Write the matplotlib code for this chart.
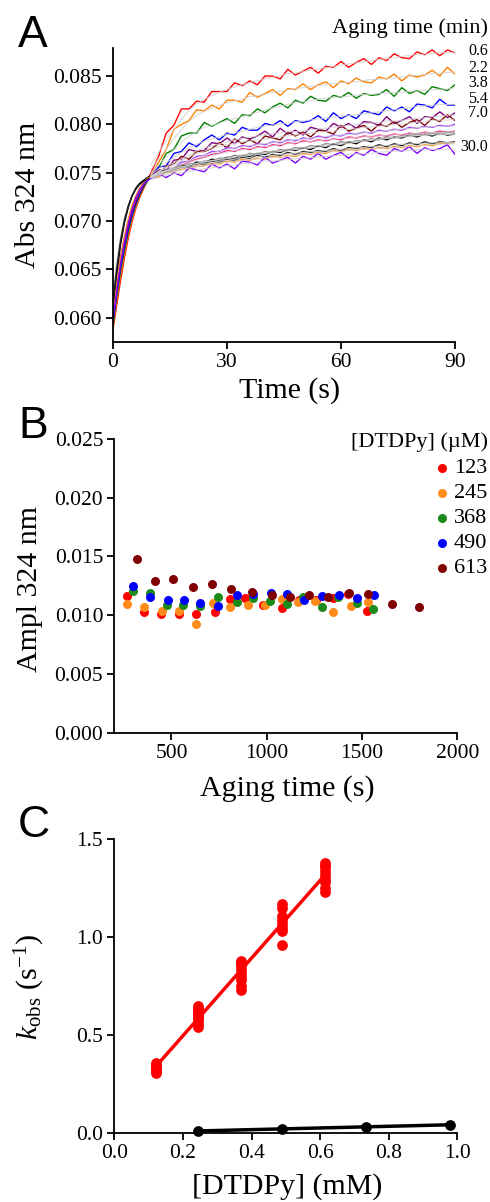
import numpy as np
import pandas as pd
import matplotlib
matplotlib.use('Agg')
import matplotlib.pyplot as plt
from matplotlib.lines import Line2D
from matplotlib.ticker import FormatStrFormatter

plt.rcParams['font.family'] = ['Liberation Serif', 'DejaVu Serif']
plt.rcParams['mathtext.fontset'] = 'custom'
plt.rcParams['mathtext.rm'] = 'Liberation Serif'
plt.rcParams['mathtext.it'] = 'Liberation Serif:italic'

# ---------------- Panel A data (Abs in mAbs) ----------------
time_s = list(range(0, 11)) + list(range(12, 91, 2))

trace_red = [58.8, 61.4, 63.9, 66.2, 68.2, 69.9, 71.3, 72.4, 73.3, 74.2, 75.0,
             76.7, 79.1, 79.9, 81.6, 81.6, 82.4, 82.3, 83.4, 83.4, 83.4,
             84.3, 84.0, 84.5, 84.1, 85.0, 85.0, 84.7, 85.7, 85.1, 85.5,
             85.9, 85.3, 86.0, 85.9, 86.5, 85.9, 86.4, 86.8, 86.2, 86.9,
             86.6, 87.3, 86.9, 86.8, 87.5, 87.2, 87.7, 87.1, 87.7, 87.4]
trace_orange = [59.0, 61.9, 64.4, 66.6, 68.5, 70.1, 71.4, 72.5, 73.4, 74.1, 74.6,
                76.1, 77.4, 79.5, 80.0, 80.4, 81.5, 81.4, 82.0, 81.6, 82.5,
                82.5, 82.3, 83.3, 82.8, 83.2, 83.6, 83.0, 83.7, 83.6, 84.2,
                83.6, 84.1, 84.4, 83.8, 84.5, 84.2, 84.8, 84.4, 84.3, 84.9,
                84.7, 85.2, 84.5, 85.1, 84.9, 85.1, 85.6, 85.0, 85.9, 85.2]
trace_green = [59.3, 62.3, 64.9, 67.0, 68.9, 70.5, 71.7, 72.7, 73.5, 74.1, 74.6,
               75.5, 77.0, 77.4, 78.8, 79.1, 79.1, 80.2, 79.8, 80.2, 80.6,
               80.1, 81.0, 80.9, 81.6, 81.2, 81.8, 82.2, 81.7, 82.5, 82.2,
               82.9, 82.5, 82.4, 83.0, 82.8, 83.3, 82.7, 83.2, 83.0, 83.1,
               83.6, 82.9, 83.8, 83.2, 83.5, 83.1, 83.9, 83.7, 83.5, 84.1]
trace_blue = [59.6, 62.6, 65.2, 67.3, 69.1, 70.6, 71.8, 72.8, 73.6, 74.2, 74.6,
              75.6, 75.7, 77.0, 77.2, 78.1, 77.7, 78.4, 78.9, 78.4, 79.1,
              78.9, 79.7, 79.4, 79.4, 80.1, 79.9, 80.4, 79.8, 80.4, 80.2,
              80.4, 80.9, 80.3, 81.2, 80.6, 81.0, 80.6, 81.4, 81.2, 81.0,
              81.8, 81.4, 81.8, 81.3, 82.1, 82.0, 81.7, 82.6, 82.0, 82.0]
trace_purple = [60.0, 63.0, 65.6, 67.6, 69.4, 70.9, 72.0, 73.0, 73.7, 74.3, 74.6,
                75.3, 75.2, 76.3, 76.4, 77.4, 77.2, 77.3, 78.1, 78.0, 78.6,
                78.0, 78.7, 78.5, 78.8, 79.3, 78.7, 79.6, 79.0, 79.4, 78.9,
                79.7, 79.5, 79.3, 80.1, 79.7, 80.1, 79.6, 80.3, 80.2, 79.9,
                80.8, 80.1, 80.4, 80.8, 80.1, 80.8, 80.7, 81.3, 80.7, 81.2]
trace_maroon = [60.2, 63.2, 65.8, 67.8, 69.6, 71.0, 72.1, 73.0, 73.7, 74.3, 74.6,
                74.6, 75.7, 75.9, 76.7, 76.4, 77.2, 77.2, 77.5, 78.1, 77.6,
                78.5, 78.0, 78.4, 78.0, 78.8, 78.6, 78.4, 79.2, 78.8, 79.2,
                78.7, 79.4, 79.3, 79.0, 79.9, 79.3, 79.6, 79.9, 79.3, 80.0,
                79.8, 80.3, 79.7, 80.2, 80.5, 79.9, 80.6, 80.3, 81.0, 80.4]
trace_violet = [60.5, 63.5, 66.0, 68.0, 69.8, 71.2, 72.3, 73.1, 73.8, 74.3, 74.6,
                74.8, 75.3, 75.5, 76.1, 76.2, 76.7, 76.8, 77.2, 77.2, 77.6,
                77.5, 77.8, 77.7, 78.0, 77.9, 78.2, 78.1, 78.4, 78.3, 78.6,
                78.5, 78.8, 78.6, 78.9, 78.8, 79.1, 79.0, 79.2, 79.1, 79.4,
                79.3, 79.5, 79.4, 79.7, 79.6, 79.8, 79.7, 79.9, 79.8, 80.0]
trace_pink = [60.8, 63.8, 66.3, 68.3, 70.0, 71.4, 72.5, 73.3, 73.9, 74.4, 74.6,
              74.9, 75.2, 75.5, 75.8, 76.1, 76.4, 76.6, 76.9, 77.0, 77.3,
              77.2, 77.5, 77.4, 77.7, 77.6, 77.9, 77.8, 78.1, 78.0, 78.3,
              78.2, 78.4, 78.3, 78.5, 78.4, 78.7, 78.6, 78.8, 78.7, 78.9,
              78.8, 79.0, 78.9, 79.1, 79.0, 79.2, 79.1, 79.3, 79.2, 79.3]
trace_gray = [62.0, 65.5, 68.2, 70.2, 71.6, 72.6, 73.3, 73.8, 74.1, 74.4, 74.6,
              74.9, 75.2, 75.5, 75.6, 75.9, 75.9, 76.2, 76.2, 76.5, 76.5,
              76.8, 76.7, 77.0, 76.9, 77.2, 77.1, 77.4, 77.3, 77.6, 77.5,
              77.8, 77.7, 78.0, 77.9, 78.2, 78.1, 78.3, 78.3, 78.5, 78.4,
              78.7, 78.6, 78.8, 78.8, 79.0, 78.9, 79.1, 79.0, 79.2, 79.1]
trace_black = [61.0, 64.6, 67.6, 69.8, 71.4, 72.6, 73.4, 73.9, 74.2, 74.5, 74.7,
               75.0, 75.3, 75.4, 75.8, 75.7, 76.1, 76.0, 76.4, 76.3, 76.6,
               76.5, 76.8, 76.7, 77.0, 76.9, 77.2, 77.1, 77.4, 77.3, 77.6,
               77.4, 77.8, 77.6, 78.0, 77.8, 78.2, 78.0, 78.4, 78.2, 78.6,
               78.4, 78.7, 78.6, 78.9, 78.7, 79.0, 78.8, 79.1, 78.9, 79.0]
trace_orange2 = [60.3, 63.5, 66.2, 68.4, 70.2, 71.6, 72.6, 73.4, 74.0, 74.4, 74.6,
                 74.6, 75.0, 75.1, 75.4, 75.4, 75.7, 75.7, 76.0, 75.9, 76.2,
                 76.1, 76.4, 76.3, 76.5, 76.4, 76.7, 76.6, 76.8, 76.7, 77.0,
                 76.9, 77.1, 77.0, 77.3, 77.2, 77.4, 77.3, 77.5, 77.4, 77.6,
                 77.5, 77.7, 77.6, 77.8, 77.7, 77.9, 77.8, 78.0, 78.1, 78.1]
trace_black2 = [61.5, 65.0, 67.9, 70.0, 71.5, 72.6, 73.3, 73.8, 74.1, 74.3, 74.5,
                74.8, 75.1, 75.3, 75.6, 75.6, 75.9, 75.9, 76.2, 76.1, 76.4,
                76.3, 76.6, 76.5, 76.8, 76.6, 76.9, 76.8, 77.1, 76.9, 77.2,
                77.1, 77.3, 77.2, 77.5, 77.3, 77.6, 77.5, 77.7, 77.6, 77.9,
                77.7, 78.0, 77.8, 78.1, 77.9, 78.2, 78.0, 78.2, 78.1, 78.2]
trace_violet2 = [59.8, 62.9, 65.6, 67.8, 69.7, 71.2, 72.4, 73.2, 73.8, 74.2, 74.4,
                 74.9, 74.5, 75.0, 74.7, 75.5, 75.3, 75.1, 75.9, 75.5, 75.9,
                 75.4, 76.2, 76.1, 75.8, 76.6, 76.0, 76.3, 76.6, 76.0, 76.7,
                 76.4, 77.0, 76.4, 76.8, 77.1, 76.5, 77.1, 76.8, 77.4, 77.0,
                 76.8, 77.5, 77.2, 77.7, 77.0, 77.6, 77.3, 77.5, 77.9, 76.9]

traces_A = [trace_red, trace_orange, trace_green, trace_blue, trace_purple,
            trace_maroon, trace_violet, trace_pink, trace_gray, trace_black,
            trace_orange2, trace_black2, trace_violet2]
colors_A = ['#ff0000', '#ff8000', '#008000', '#0000ff', '#800080',
            '#800000', '#a040ff', '#ff2080', '#808080', '#000000',
            '#ff9020', '#202020', '#8000ff']
aging_labels = ['0.6', '2.2', '3.8', '5.4', '7.0', '30.0']

# ---------------- Panel B data ----------------
b_conc_labels = ['123', '245', '368', '490', '613']
b_colors = ['#ff0000', '#ff8c1a', '#1a8a1a', '#0000ff', '#800000']
b_x_123 = [268, 357, 445, 540, 627, 729, 807, 888, 978, 1078, 1170, 1260, 1349, 1428, 1525]
b_y_123 = [0.01164, 0.01030, 0.01010, 0.01010, 0.01010, 0.01025, 0.01138, 0.01149,
           0.01090, 0.01059, 0.01130, 0.01130, 0.01149, 0.01180, 0.01039]
b_x_245 = [265, 357, 450, 539, 629, 720, 807, 903, 990, 1078, 1165, 1253, 1349, 1442, 1530]
b_y_245 = [0.01093, 0.01073, 0.01039, 0.01039, 0.00922, 0.01107, 0.01070, 0.01084,
           0.01084, 0.01135, 0.01110, 0.01124, 0.01024, 0.01078, 0.01110]
b_x_368 = [300, 387, 475, 562, 650, 746, 842, 929, 1017, 1104, 1192, 1288, 1375, 1472, 1559]
b_y_368 = [0.01206, 0.01186, 0.01084, 0.01084, 0.01078, 0.01155, 0.01110, 0.01144,
           0.01124, 0.01093, 0.01155, 0.01070, 0.01155, 0.01101, 0.01050]
b_x_490 = [300, 387, 480, 567, 650, 746, 842, 929, 1020, 1108, 1195, 1288, 1379, 1472, 1563]
b_y_490 = [0.01249, 0.01155, 0.01127, 0.01127, 0.01107, 0.01078, 0.01169, 0.01178,
           0.01186, 0.01181, 0.01127, 0.01164, 0.01169, 0.01149, 0.01172]
b_x_613 = [317, 413, 510, 611, 712, 812, 920, 1026, 1122, 1223, 1323, 1433, 1533, 1655, 1800]
b_y_613 = [0.01476, 0.01291, 0.01305, 0.01243, 0.01266, 0.01223, 0.01200, 0.01169,
           0.01158, 0.01169, 0.01155, 0.01186, 0.01178, 0.01098, 0.01073]
b_xs = [b_x_123, b_x_245, b_x_368, b_x_490, b_x_613]
b_ys = [b_y_123, b_y_245, b_y_368, b_y_490, b_y_613]

# ---------------- Panel C data ----------------
c_conc_mM = [0.123, 0.245, 0.368, 0.490, 0.613]
c_kobs = [
    [0.31, 0.32, 0.33, 0.34, 0.35, 0.36],
    [0.54, 0.56, 0.58, 0.59, 0.60, 0.61, 0.62, 0.63, 0.64, 0.65],
    [0.73, 0.75, 0.78, 0.80, 0.82, 0.84, 0.86, 0.87, 0.88],
    [0.96, 1.03, 1.05, 1.07, 1.09, 1.11, 1.15, 1.17],
    [1.23, 1.25, 1.28, 1.30, 1.32, 1.34, 1.36, 1.37, 1.38],
]
c_black_conc = [0.245, 0.490, 0.735, 0.980]
c_black_k = [0.012, 0.022, 0.034, 0.043]

# ---------------- Figure ----------------
W, H = 490, 1202
fig = plt.figure(figsize=(W / 100, H / 100), dpi=100)


def fx(px):
    return px / W


def fy(py):
    return 1 - py / H


def add_axes(left, top, right, bottom):
    return fig.add_axes([fx(left), fy(bottom), (right - left) / W, (bottom - top) / H])


TICK_FS = 15.5
LAB_FS = 21.5


def style(ax):
    for s in ['top', 'right']:
        ax.spines[s].set_visible(False)
    for s in ['left', 'bottom']:
        ax.spines[s].set_linewidth(1.3)
    ax.tick_params(direction='out', length=5, width=1.3, labelsize=TICK_FS, pad=3)


# Panel A
axA = add_axes(113, 48, 455, 342)
t = np.array(time_s)
for tr, c in zip(traces_A, colors_A):
    y = np.array(tr) / 1000.0
    axA.plot(t, y, color=c, lw=1.0, zorder=2)
for tr in traces_A:
    y = pd.Series(np.array(tr) / 1000.0).rolling(7, center=True, min_periods=1).mean().values
    m = t >= 10
    axA.plot(t[m], y[m], color='#d0d0d0', lw=0.8, alpha=0.8, zorder=3)
axA.set_xlim(0, 90)
axA.set_ylim(0.0575, 0.0879)
axA.set_xticks([0, 30, 60, 90])
axA.set_yticks([0.060, 0.065, 0.070, 0.075, 0.080, 0.085])
axA.yaxis.set_major_formatter(FormatStrFormatter('%.3f'))
style(axA)

fig.text(fx(18), fy(47), 'A', family='Liberation Sans', fontsize=32, va='baseline', ha='left')
fig.text(fx(488), fy(33), 'Aging time (min)', fontsize=16, ha='right', va='baseline')
for lab, py in zip(aging_labels, [50.7, 68.3, 82.7, 99.3, 113.3, 146.7]):
    fig.text(fx(488), fy(py), lab, fontsize=11.5, ha='right', va='center')
fig.text(fx(28), fy(195), 'Abs 324 nm', fontsize=LAB_FS, rotation=90, ha='center', va='center')
fig.text(fx(290), fy(391), 'Time (s)', fontsize=LAB_FS, ha='center', va='center')

# Panel B
axB = add_axes(114.3, 439, 457.3, 732.7)
for xs, ys, c in zip(b_xs, b_ys, b_colors):
    axB.scatter(xs, ys, s=42, color=c, linewidths=0, zorder=3)
axB.set_xlim(200, 2000)
axB.set_ylim(0, 0.025)
axB.set_xticks([500, 1000, 1500, 2000])
axB.set_yticks([0, 0.005, 0.010, 0.015, 0.020, 0.025])
axB.yaxis.set_major_formatter(FormatStrFormatter('%.3f'))
style(axB)

fig.text(fx(18), fy(438), 'B', family='Liberation Sans', fontsize=32, va='baseline', ha='left')
fig.text(fx(488), fy(441.7), '[DTDPy] (\u00b5M)', fontsize=16, ha='right', va='center')
for lab, c, py in zip(b_conc_labels, b_colors, [468.3, 493.3, 518.3, 543.3, 568.3]):
    fig.add_artist(Line2D([fx(441.7)], [fy(py)], marker='o', markersize=6.5, color=c,
                          markeredgewidth=0, linestyle='none', transform=fig.transFigure))
    fig.text(fx(454), fy(py), lab, fontsize=16, ha='left', va='center')
fig.text(fx(30), fy(589), 'Ampl 324 nm', fontsize=LAB_FS, rotation=90, ha='center', va='center')
fig.text(fx(287), fy(789), 'Aging time (s)', fontsize=LAB_FS, ha='center', va='center')

# Panel C
axC = add_axes(114.3, 839.3, 457.3, 1133.3)
all_x, all_y = [], []
for cx, ks in zip(c_conc_mM, c_kobs):
    axC.scatter([cx] * len(ks), ks, s=60, color='#ff0000', linewidths=0, zorder=3, clip_on=False)
    all_x += [cx] * len(ks)
    all_y += ks
p = np.polyfit(all_x, all_y, 1)
xx = np.array([min(c_conc_mM), max(c_conc_mM)])
axC.plot(xx, np.polyval(p, xx), color='#ff0000', lw=2.5, zorder=2)
axC.scatter(c_black_conc, c_black_k, s=60, color='#000000', linewidths=0, zorder=3, clip_on=False)
pb = np.polyfit(c_black_conc, c_black_k, 1)
xb = np.array([min(c_black_conc), max(c_black_conc)])
axC.plot(xb, np.polyval(pb, xb), color='#000000', lw=2.5, zorder=2, clip_on=False)
axC.set_xlim(0, 1.0)
axC.set_ylim(0, 1.5)
axC.set_xticks([0, 0.2, 0.4, 0.6, 0.8, 1.0])
axC.set_yticks([0, 0.5, 1.0, 1.5])
axC.xaxis.set_major_formatter(FormatStrFormatter('%.1f'))
axC.yaxis.set_major_formatter(FormatStrFormatter('%.1f'))
style(axC)

fig.text(fx(18), fy(837), 'C', family='Liberation Sans', fontsize=32, va='baseline', ha='left')
fig.text(fx(30), fy(987), r'$k_{\mathrm{obs}}$ (s$^{\mathrm{-1}}$)', fontsize=LAB_FS,
         rotation=90, ha='center', va='center')
fig.text(fx(287), fy(1187), '[DTDPy] (mM)', fontsize=LAB_FS, ha='center', va='center')

fig.savefig('out.png', dpi=100)
